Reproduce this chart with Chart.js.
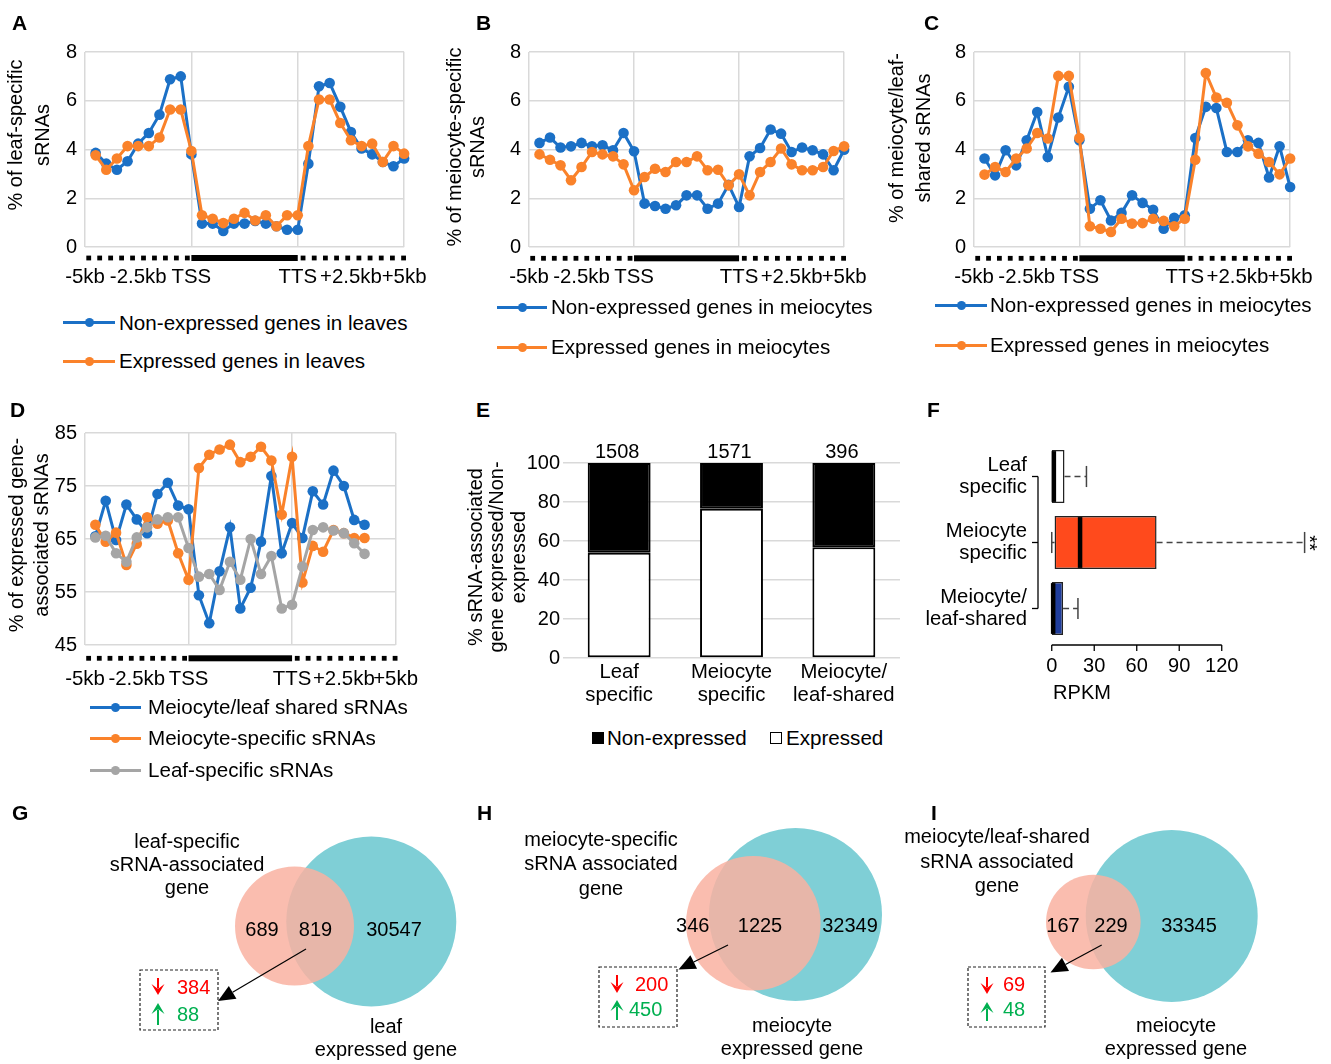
<!DOCTYPE html>
<html>
<head>
<meta charset="utf-8">
<title>sRNA profiles</title>
<script src="https://cdn.jsdelivr.net/npm/chart.js@4.4.1/dist/chart.umd.min.js"></script>
<style>
  html, body { margin: 0; padding: 0; background: #fff; }
  #fig { position: relative; width: 1331px; height: 1064px; overflow: hidden; background: #fff;
         font-family: 'Liberation Sans', Arial, sans-serif; color: #000; }
  #fig canvas { position: absolute; }
  .letter { position: absolute; font-weight: bold; font-size: 21px; line-height: 21px; }
  .lg { position: absolute; height: 24px; line-height: 24px; font-size: 20.6px; white-space: nowrap; }
  .lg .ln { position: absolute; top: 10.5px; height: 3px; }
  .lg .dot { position: absolute; top: 7.5px; width: 9px; height: 9px; border-radius: 50%; }
  .lg .sq { position: absolute; top: 6px; width: 12px; height: 12px; box-sizing: border-box; border: 1.5px solid #000; }
  .lg .tx { position: absolute; top: 0; }
</style>
</head>
<body>
<div id="fig"></div>
<script>
const FONT = "'Liberation Sans', Arial, sans-serif";
Chart.defaults.font.family = FONT;
Chart.defaults.font.size = 20;
Chart.defaults.color = '#000';

const BLUE = '#1b70c6', ORANGE = '#fa822a', GREY = '#a5a5a5', GRID = '#d9d9d9';
const RED = '#ff0000', GREEN = '#00b050';

// ---------- data ----------
// profile x axis: 10 bins upstream, 10 bins gene body, 10 bins downstream
const tickPos = [0, 5, 10, 20, 25, 30];
const tickText = ['-5kb', '-2.5kb', 'TSS', 'TTS', '+2.5kb', '+5kb'];

// A - leaf-specific sRNAs
const leafNonExpr = [3.86, 3.42, 3.17, 3.52, 4.24, 4.68, 5.43, 6.88, 7.0, 3.80,
  0.96, 0.96, 0.66, 0.96, 0.96, 1.07, 0.96, 0.85, 0.71, 0.71,
  3.42, 6.59, 6.73, 5.75, 4.72, 4.04, 3.80, 3.49, 3.31, 3.63];
const leafExpr = [3.76, 3.17, 3.63, 4.14, 4.14, 4.14, 4.49, 5.64, 5.64, 3.94,
  1.30, 1.16, 0.98, 1.16, 1.40, 1.09, 1.30, 0.85, 1.30, 1.30,
  4.14, 6.05, 6.05, 5.09, 4.38, 4.14, 4.24, 3.49, 4.14, 3.83];

// B - meiocyte-specific sRNAs
const meioNonExpr = [4.27, 4.49, 4.08, 4.13, 4.27, 4.13, 4.17, 3.97, 4.68, 3.93,
  1.78, 1.68, 1.57, 1.71, 2.12, 2.12, 1.57, 1.78, 2.55, 1.64,
  3.72, 4.06, 4.82, 4.65, 3.90, 4.08, 3.97, 3.80, 3.15, 3.99];
const meioExpr = [3.80, 3.58, 3.35, 2.74, 3.28, 3.90, 3.80, 3.72, 3.39, 2.33,
  2.87, 3.21, 3.08, 3.49, 3.49, 3.72, 3.15, 3.17, 2.53, 2.98,
  2.12, 3.08, 3.49, 4.04, 3.39, 3.15, 3.15, 3.28, 3.94, 4.13];

// C - meiocyte/leaf-shared sRNAs
const sharedNonExpr = [3.63, 2.94, 3.97, 3.35, 4.38, 5.54, 3.69, 5.31, 6.57, 4.38,
  1.57, 1.92, 1.09, 1.40, 2.12, 1.81, 1.53, 0.75, 1.20, 1.30,
  4.47, 5.75, 5.70, 3.90, 3.90, 4.38, 4.27, 2.85, 4.13, 2.46];
const sharedExpr = [2.97, 3.28, 3.08, 3.63, 4.04, 4.68, 4.45, 7.02, 7.02, 4.47,
  0.85, 0.75, 0.62, 1.16, 0.96, 0.98, 1.16, 1.07, 0.85, 1.16,
  3.58, 7.14, 6.13, 5.92, 4.99, 4.13, 3.83, 3.49, 2.98, 3.63];

// D - % of expressed gene-associated sRNAs (27 bins plotted)
const dShared = [65.5, 72.2, 64.8, 71.5, 68.7, 66.1, 73.5, 75.6, 71.3, 70.6,
  54.4, 49.1, 58.9, 67.2, 51.9, 55.8, 64.5, 76.9, 62.3, 68.0,
  65.2, 74.0, 71.5, 77.9, 75.0, 68.6, 67.7];
const dMeio = [67.7, 64.5, 66.2, 60.1, 64.1, 69.1, 67.9, 68.5, 62.3, 57.3,
  78.4, 80.9, 81.9, 82.8, 79.5, 80.5, 82.4, 79.8, 69.6, 80.5,
  56.8, 63.7, 62.6, 66.7, 66.1, 65.2, 65.2];
const dLeaf = [65.3, 65.6, 62.3, 60.7, 65.3, 67.2, 68.7, 69.1, 69.1, 63.3,
  57.9, 58.4, 55.4, 60.7, 57.3, 65.0, 58.4, 61.8, 51.9, 52.6,
  59.8, 66.7, 67.2, 66.6, 66.1, 64.2, 62.2];

// E - expressed / non-expressed share
const groupNames = [['Leaf', 'specific'], ['Meiocyte', 'specific'], ['Meiocyte/', 'leaf-shared']];
const setTotals = [1508, 1571, 396];
const pctExpressed = [54.0, 76.6, 56.8];
const pctNonExpressed = [46.0, 23.4, 43.2];

// F - RPKM box plot
const boxGroups = [['Leaf', 'specific'], ['Meiocyte', 'specific'], ['Meiocyte/', 'leaf-shared']];
const boxMin = [0, 0, 0];
const boxQ1 = [0, 2, 0];
const boxMed = [1.5, 20, 1];
const boxQ3 = [9, 74, 8];
const boxMax = [24.5, 178.5, 18.5];
const rpkmTicks = [0, 30, 60, 90, 120];

// G, H, I - Venn counts
const sRNASetNames = [['leaf-specific', 'sRNA-associated', 'gene'],
  ['meiocyte-specific', 'sRNA associated', 'gene'],
  ['meiocyte/leaf-shared', 'sRNA associated', 'gene']];
const exprSetNames = [['leaf', 'expressed gene'], ['meiocyte', 'expressed gene'], ['meiocyte', 'expressed gene']];
const vennOnlySRNA = [689, 346, 167];
const vennBoth = [819, 1225, 229];
const vennOnlyExpr = [30547, 32349, 33345];
const vennDown = [384, 200, 69];
const vennUp = [88, 450, 48];

// ---------- layout (page pixels) ----------
const boxes = {
  A: { L: 0, T: 0, W: 445, H: 300 },
  B: { L: 440, T: 0, W: 445, H: 300 },
  C: { L: 885, T: 0, W: 446, H: 300 },
  D: { L: 0, T: 385, W: 440, H: 315 },
  E: { L: 455, T: 430, W: 455, H: 290 },
  F: { L: 920, T: 400, W: 411, H: 315 },
  G: { L: 0, T: 790, W: 470, H: 274 },
  H: { L: 470, T: 790, W: 430, H: 274 },
  I: { L: 900, T: 790, W: 431, H: 274 }
};

const vennLayout = [
  { pink: [294.5, 926, 59.5], teal: [371.3, 921.5, 85], title: [187, 865, 23],
    nums: [[262, 930], [315.5, 930], [394, 930]], arrow: [306, 949, 218, 1001], box: [140, 970, 218, 1030],
    down: [158, 978, 995, 177, 988], up: [158, 1025, 1003, 177, 1015], expr: [386, 1039, 23] },
  { pink: [753.3, 923.3, 67.3], teal: [795.5, 914.5, 86.5], title: [601, 864.5, 24.5],
    nums: [[692.7, 926.7], [760, 926.7], [850, 926.7]], arrow: [728, 945, 678.5, 969.5], box: [599, 967, 677, 1027],
    down: [617, 975, 993, 635, 985], up: [617, 1020, 1000, 629, 1010], expr: [792, 1037.5, 23] },
  { pink: [1093.3, 922, 47.3], teal: [1171.7, 916, 86], title: [997, 862, 24.5],
    nums: [[1063, 926], [1111, 926], [1189, 926]], arrow: [1101.7, 945, 1050.5, 972.5], box: [968, 967, 1045, 1027],
    down: [987, 977, 994, 1003, 985], up: [987, 1021, 1002, 1003, 1010], expr: [1176, 1037.5, 23] }
];

const fig = document.getElementById('fig');

function makeCanvas(id, b) {
  const c = document.createElement('canvas');
  c.id = id;
  c.width = b.W;
  c.height = b.H;
  c.style.left = b.L + 'px';
  c.style.top = b.T + 'px';
  fig.appendChild(c);
  return c;
}

function seg(ctx, x1, y1, x2, y2) {
  ctx.beginPath();
  ctx.moveTo(x1, y1);
  ctx.lineTo(x2, y2);
  ctx.stroke();
}

// free text / shapes, given in page coordinates
function drawItem(ctx, it) {
  if (it.t === 'text') {
    ctx.save();
    ctx.translate(it.x, it.y);
    ctx.rotate((it.rot || 0) * Math.PI / 180);
    ctx.font = (it.size || 20) + 'px ' + FONT;
    ctx.fillStyle = it.color || '#000';
    ctx.textAlign = it.align || 'center';
    ctx.textBaseline = 'middle';
    const lines = [].concat(it.text);
    const lh = it.lh || 23;
    const off = (lines.length - 1) * lh / 2;
    lines.forEach((s, k) => ctx.fillText(s, 0, k * lh - off));
    ctx.restore();
  } else if (it.t === 'arrow') {
    const [x1, y1, x2, y2] = it.p;
    const ang = Math.atan2(y2 - y1, x2 - x1), hl = 17, hw = 7.5;
    const bx = x2 - hl * Math.cos(ang), by = y2 - hl * Math.sin(ang);
    ctx.strokeStyle = '#000';
    ctx.lineWidth = 1.2;
    seg(ctx, x1, y1, bx, by);
    ctx.fillStyle = '#000';
    ctx.beginPath();
    ctx.moveTo(x2, y2);
    ctx.lineTo(bx + hw * Math.sin(ang), by - hw * Math.cos(ang));
    ctx.lineTo(bx - hw * Math.sin(ang), by + hw * Math.cos(ang));
    ctx.closePath();
    ctx.fill();
  } else if (it.t === 'dbox') {
    const [x1, y1, x2, y2] = it.p;
    ctx.save();
    ctx.strokeStyle = '#222';
    ctx.lineWidth = 1.2;
    ctx.setLineDash([3, 2]);
    ctx.strokeRect(x1, y1, x2 - x1, y2 - y1);
    ctx.restore();
  } else if (it.t === 'varrow') {
    const dir = Math.sign(it.y2 - it.y1), hl = 11, hw = 6.5;
    ctx.strokeStyle = it.color;
    ctx.fillStyle = it.color;
    ctx.lineWidth = 2;
    seg(ctx, it.x, it.y1, it.x, it.y2 - dir * hl * 0.6);
    ctx.beginPath();
    ctx.moveTo(it.x, it.y2);
    ctx.lineTo(it.x - hw, it.y2 - dir * hl);
    ctx.lineTo(it.x, it.y2 - dir * hl * 0.55);
    ctx.lineTo(it.x + hw, it.y2 - dir * hl);
    ctx.closePath();
    ctx.fill();
  }
}

function annot(b, items) {
  return {
    id: 'annot',
    afterDraw(chart) {
      const ctx = chart.ctx;
      ctx.save();
      ctx.translate(-b.L, -b.T);
      items.forEach(it => drawItem(ctx, it));
      ctx.restore();
    }
  };
}

// dotted flanks + solid gene body under the profile x axis
function geneBar(off) {
  return {
    id: 'geneBar',
    afterDraw(chart) {
      const { ctx, chartArea, scales: { x } } = chart;
      const y = chartArea.bottom + off;
      ctx.save();
      ctx.fillStyle = '#000';
      for (let k = 0; k < 10; k++) {
        const a = x.getPixelForValue(0.35 + k * 1.03);
        const b = x.getPixelForValue(20.5 + k * 1.05);
        ctx.fillRect(a - 2.4, y - 2.4, 4.8, 4.8);
        ctx.fillRect(b - 2.4, y - 2.4, 4.8, 4.8);
      }
      const s = x.getPixelForValue(10), e = x.getPixelForValue(20);
      ctx.fillRect(s, y - 3, e - s, 6);
      ctx.restore();
    }
  };
}

function profileChart(id, b, area, yAxis, series, title, barOff, labelPad) {
  return new Chart(makeCanvas(id, b), {
    type: 'line',
    data: {
      datasets: series.map((s, k) => ({
        label: s.name,
        data: s.values.map((v, i) => ({ x: i + 1, y: v })),
        borderColor: s.color,
        backgroundColor: s.color,
        borderWidth: 3,
        pointRadius: 5.3,
        pointBorderWidth: 0,
        clip: false,
        order: series.length - k
      }))
    },
    options: {
      responsive: false,
      animation: false,
      events: [],
      layout: { autoPadding: false, padding: { left: 0, top: area.top - b.T, right: b.L + b.W - area.right, bottom: 0 } },
      scales: {
        x: {
          type: 'linear', min: 0, max: 30,
          afterBuildTicks: s => { s.ticks = tickPos.map(v => ({ value: v })); },
          afterFit: s => { s.height = b.T + b.H - area.bottom; },
          ticks: { autoSkip: false, maxRotation: 0, padding: labelPad, font: { size: 20.4 }, callback: (v, i) => tickText[i] },
          grid: { drawTicks: false, lineWidth: 1.5, color: c => (c.tick && c.tick.value % 10 === 0) ? GRID : 'rgba(0,0,0,0)' },
          border: { display: false }
        },
        y: {
          min: yAxis.min, max: yAxis.max,
          afterFit: s => { s.width = area.left - b.L; },
          ticks: { stepSize: yAxis.step, padding: 8 },
          grid: { drawTicks: false, lineWidth: 1.5, color: GRID },
          border: { display: false }
        }
      },
      plugins: { legend: { display: false }, tooltip: { enabled: false } }
    },
    plugins: [geneBar(barOff), annot(b, [title])]
  });
}

// ---------- A, B, C, D ----------
profileChart('chartA', boxes.A, { left: 85, right: 411, top: 52, bottom: 247 }, { min: 0, max: 8, step: 2 },
  [{ name: 'Non-expressed genes in leaves', values: leafNonExpr, color: BLUE },
   { name: 'Expressed genes in leaves', values: leafExpr, color: ORANGE }],
  { t: 'text', text: ['% of leaf-specific', 'sRNAs'], x: 30, y: 135, rot: -90, lh: 26.5 }, 11, 18.5);

profileChart('chartB', boxes.B, { left: 529, right: 855, top: 52, bottom: 247 }, { min: 0, max: 8, step: 2 },
  [{ name: 'Non-expressed genes in meiocytes', values: meioNonExpr, color: BLUE },
   { name: 'Expressed genes in meiocytes', values: meioExpr, color: ORANGE }],
  { t: 'text', text: ['% of meiocyte-specific', 'sRNAs'], x: 466.5, y: 147, rot: -90, lh: 23 }, 11.3, 18.5);

profileChart('chartC', boxes.C, { left: 974, right: 1300, top: 52, bottom: 247 }, { min: 0, max: 8, step: 2 },
  [{ name: 'Non-expressed genes in meiocytes', values: sharedNonExpr, color: BLUE },
   { name: 'Expressed genes in meiocytes', values: sharedExpr, color: ORANGE }],
  { t: 'text', text: ['% of meiocyte/leaf-', 'shared sRNAs'], x: 910.5, y: 138, rot: -90, lh: 27 }, 11.3, 18.5);

profileChart('chartD', boxes.D, { left: 85, right: 410, top: 433, bottom: 645 }, { min: 45, max: 85, step: 10 },
  [{ name: 'Meiocyte/leaf shared sRNAs', values: dShared, color: BLUE },
   { name: 'Meiocyte-specific sRNAs', values: dMeio, color: ORANGE },
   { name: 'Leaf-specific sRNAs', values: dLeaf, color: GREY }],
  { t: 'text', text: ['% of expressed gene-', 'associated sRNAs'], x: 30, y: 535, rot: -90, lh: 25 }, 13.3, 22);

// ---------- E ----------
(function () {
  const b = boxes.E;
  const totals = {
    id: 'totals',
    afterDraw(chart) {
      const { ctx, chartArea } = chart;
      ctx.save();
      ctx.font = '20px ' + FONT;
      ctx.fillStyle = '#000';
      ctx.textAlign = 'center';
      ctx.textBaseline = 'middle';
      chart.getDatasetMeta(0).data.forEach((bar, i) => ctx.fillText(String(setTotals[i]), bar.x - 2, chartArea.top - 11));
      ctx.restore();
    }
  };
  new Chart(makeCanvas('chartE', b), {
    type: 'bar',
    data: {
      labels: groupNames,
      datasets: [
        { label: 'Expressed', data: pctExpressed, backgroundColor: '#fff', borderColor: '#000', borderWidth: 2, borderSkipped: false, barPercentage: 0.56, categoryPercentage: 1 },
        { label: 'Non-expressed', data: pctNonExpressed, backgroundColor: '#000', borderColor: '#000', borderWidth: 2, borderSkipped: false, barPercentage: 0.56, categoryPercentage: 1 }
      ]
    },
    options: {
      responsive: false,
      animation: false,
      events: [],
      layout: { autoPadding: false, padding: { left: 0, right: 10, top: 33, bottom: 0 } },
      scales: {
        x: {
          stacked: true,
          grid: { display: false, drawTicks: false },
          border: { display: false },
          ticks: { padding: 2.5, font: { size: 20.3, lineHeight: 1.15 } },
          afterFit: s => { s.height = 62; }
        },
        y: {
          stacked: true, min: 0, max: 100,
          ticks: { stepSize: 20, padding: 3 },
          grid: { color: GRID, lineWidth: 1.5, drawTicks: false },
          border: { display: false },
          afterFit: s => { s.width = 108; }
        }
      },
      plugins: { legend: { display: false }, tooltip: { enabled: false } }
    },
    plugins: [totals, annot(b, [{ t: 'text', text: ['% sRNA-associated', 'gene expressed/Non-', 'expressed'], x: 497.5, y: 557, rot: -90, lh: 21.5 }])]
  });
})();

// ---------- F ----------
(function () {
  const b = boxes.F;
  const boxParts = {
    id: 'boxParts',
    afterDatasetsDraw(chart) {
      const { ctx, chartArea: a, scales: { x, y } } = chart;
      const bars = chart.getDatasetMeta(0).data;
      const px = v => x.getPixelForValue(v);
      ctx.save();
      boxGroups.forEach((g, i) => {
        const cy = y.getPixelForValue(i), h = bars[i].height, cap = h * 0.4;
        ctx.strokeStyle = '#444';
        ctx.lineWidth = 1.5;
        ctx.setLineDash([6, 4]);
        seg(ctx, px(boxQ3[i]), cy, px(boxMax[i]), cy);
        if (boxMin[i] < boxQ1[i]) seg(ctx, px(boxMin[i]), cy, px(boxQ1[i]), cy);
        ctx.setLineDash([]);
        seg(ctx, px(boxMax[i]), cy - cap / 2, px(boxMax[i]), cy + cap / 2);
        if (boxMin[i] < boxQ1[i]) seg(ctx, px(boxMin[i]), cy - cap / 2, px(boxMin[i]), cy + cap / 2);
        ctx.strokeStyle = '#000';
        ctx.lineWidth = 4.5;
        seg(ctx, px(boxMed[i]), cy - h / 2 + 1, px(boxMed[i]), cy + h / 2 - 1);
      });
      // R style axes
      ctx.strokeStyle = '#000';
      ctx.lineWidth = 1.3;
      const ay = a.bottom + 3.5;
      seg(ctx, px(rpkmTicks[0]), ay, px(rpkmTicks[rpkmTicks.length - 1]), ay);
      rpkmTicks.forEach(v => seg(ctx, px(v), ay, px(v), ay + 6));
      const ax = a.left;
      seg(ctx, ax, y.getPixelForValue(0), ax, y.getPixelForValue(boxGroups.length - 1));
      boxGroups.forEach((g, i) => seg(ctx, ax, y.getPixelForValue(i), ax - 6, y.getPixelForValue(i)));
      ctx.restore();
    }
  };
  new Chart(makeCanvas('chartF', b), {
    type: 'bar',
    data: {
      labels: boxGroups,
      datasets: [{
        data: boxQ1.map((q, i) => [q, boxQ3[i]]),
        backgroundColor: ['#ffffff', '#ff4a1c', '#1f3d9c'],
        borderColor: '#222',
        borderWidth: 1.5,
        borderSkipped: false,
        barPercentage: 0.8,
        categoryPercentage: 1
      }]
    },
    options: {
      indexAxis: 'y',
      responsive: false,
      animation: false,
      events: [],
      layout: { autoPadding: false, padding: { left: 0, right: 22, top: 43.5, bottom: 0 } },
      scales: {
        x: {
          type: 'linear', min: -9.7, max: 181.6,
          afterBuildTicks: s => { s.ticks = rpkmTicks.map(v => ({ value: v })); },
          afterFit: s => { s.height = 73.5; },
          ticks: { autoSkip: false, maxRotation: 0, padding: 12.5 },
          grid: { display: false, drawTicks: false },
          border: { display: false }
        },
        y: {
          afterFit: s => { s.width = 118; },
          ticks: { padding: 11, font: { size: 20.3, lineHeight: 1.05 } },
          grid: { display: false, drawTicks: false },
          border: { display: false }
        }
      },
      plugins: { legend: { display: false }, tooltip: { enabled: false } }
    },
    plugins: [boxParts, annot(b, [
      { t: 'text', text: 'RPKM', x: 1082, y: 693.5 },
      { t: 'text', text: '**', x: 1309, y: 543, rot: 90 }
    ])]
  });
})();

// ---------- G, H, I ----------
function vennItems(k) {
  const v = vennLayout[k];
  return [
    { t: 'text', text: sRNASetNames[k], x: v.title[0], y: v.title[1], lh: v.title[2] },
    { t: 'text', text: String(vennOnlySRNA[k]), x: v.nums[0][0], y: v.nums[0][1] },
    { t: 'text', text: String(vennBoth[k]), x: v.nums[1][0], y: v.nums[1][1] },
    { t: 'text', text: String(vennOnlyExpr[k]), x: v.nums[2][0], y: v.nums[2][1] },
    { t: 'arrow', p: v.arrow },
    { t: 'dbox', p: v.box },
    { t: 'varrow', x: v.down[0], y1: v.down[1], y2: v.down[2], color: RED },
    { t: 'text', text: String(vennDown[k]), x: v.down[3], y: v.down[4], align: 'left', color: RED },
    { t: 'varrow', x: v.up[0], y1: v.up[1], y2: v.up[2], color: GREEN },
    { t: 'text', text: String(vennUp[k]), x: v.up[3], y: v.up[4], align: 'left', color: GREEN },
    { t: 'text', text: exprSetNames[k], x: v.expr[0], y: v.expr[1], lh: v.expr[2] }
  ];
}

function vennChart(id, b, k) {
  const v = vennLayout[k];
  new Chart(makeCanvas(id, b), {
    type: 'bubble',
    data: {
      datasets: [
        { data: [{ x: v.teal[0], y: v.teal[1], r: v.teal[2] }], backgroundColor: '#7fcfd6', borderWidth: 0, clip: false, order: 2 },
        { data: [{ x: v.pink[0], y: v.pink[1], r: v.pink[2] }], backgroundColor: 'rgba(249,178,161,0.85)', borderWidth: 0, clip: false, order: 1 }
      ]
    },
    options: {
      responsive: false,
      animation: false,
      events: [],
      layout: { autoPadding: false, padding: 0 },
      scales: {
        x: { type: 'linear', display: false, min: b.L, max: b.L + b.W },
        y: { type: 'linear', display: false, min: b.T, max: b.T + b.H, reverse: true }
      },
      plugins: { legend: { display: false }, tooltip: { enabled: false } }
    },
    plugins: [annot(b, vennItems(k))]
  });
}
vennChart('chartG', boxes.G, 0);
vennChart('chartH', boxes.H, 1);
vennChart('chartI', boxes.I, 2);

// ---------- legends and panel letters ----------
function lineLegend(x, y, w, tx, color, text) {
  const row = document.createElement('div');
  row.className = 'lg';
  row.style.left = x + 'px';
  row.style.top = (y - 12) + 'px';
  row.innerHTML = '<span class="ln" style="left:0;width:' + w + 'px;background:' + color + '"></span>' +
    '<span class="dot" style="left:' + (w / 2 - 4.5) + 'px;background:' + color + '"></span>' +
    '<span class="tx" style="left:' + (tx - x) + 'px">' + text + '</span>';
  fig.appendChild(row);
}
function squareLegend(x, y, fill, tx, text) {
  const row = document.createElement('div');
  row.className = 'lg';
  row.style.left = x + 'px';
  row.style.top = (y - 12) + 'px';
  row.innerHTML = '<span class="sq" style="left:0;background:' + fill + '"></span>' +
    '<span class="tx" style="left:' + (tx - x) + 'px">' + text + '</span>';
  fig.appendChild(row);
}

lineLegend(63, 322.5, 52, 119, BLUE, 'Non-expressed genes in leaves');
lineLegend(63, 361, 52, 119, ORANGE, 'Expressed genes in leaves');
lineLegend(497, 307, 50, 551, BLUE, 'Non-expressed genes in meiocytes');
lineLegend(497, 347, 50, 551, ORANGE, 'Expressed genes in meiocytes');
lineLegend(935, 305, 52, 990, BLUE, 'Non-expressed genes in meiocytes');
lineLegend(935, 345, 52, 990, ORANGE, 'Expressed genes in meiocytes');
lineLegend(90, 707, 51, 148, BLUE, 'Meiocyte/leaf shared sRNAs');
lineLegend(90, 738, 51, 148, ORANGE, 'Meiocyte-specific sRNAs');
lineLegend(90, 770, 51, 148, GREY, 'Leaf-specific sRNAs');
squareLegend(592, 738, '#000', 607, 'Non-expressed');
squareLegend(770, 738, '#fff', 786, 'Expressed');

const letters = [['A', 12, 30], ['B', 476, 30], ['C', 924, 30], ['D', 10, 417], ['E', 476, 417],
  ['F', 927, 417], ['G', 12, 820], ['H', 477, 820], ['I', 931, 820]];
letters.forEach(([s, x, base]) => {
  const d = document.createElement('div');
  d.className = 'letter';
  d.textContent = s;
  d.style.left = x + 'px';
  d.style.top = (base - 17.8) + 'px';
  fig.appendChild(d);
});
</script>
</body>
</html>
